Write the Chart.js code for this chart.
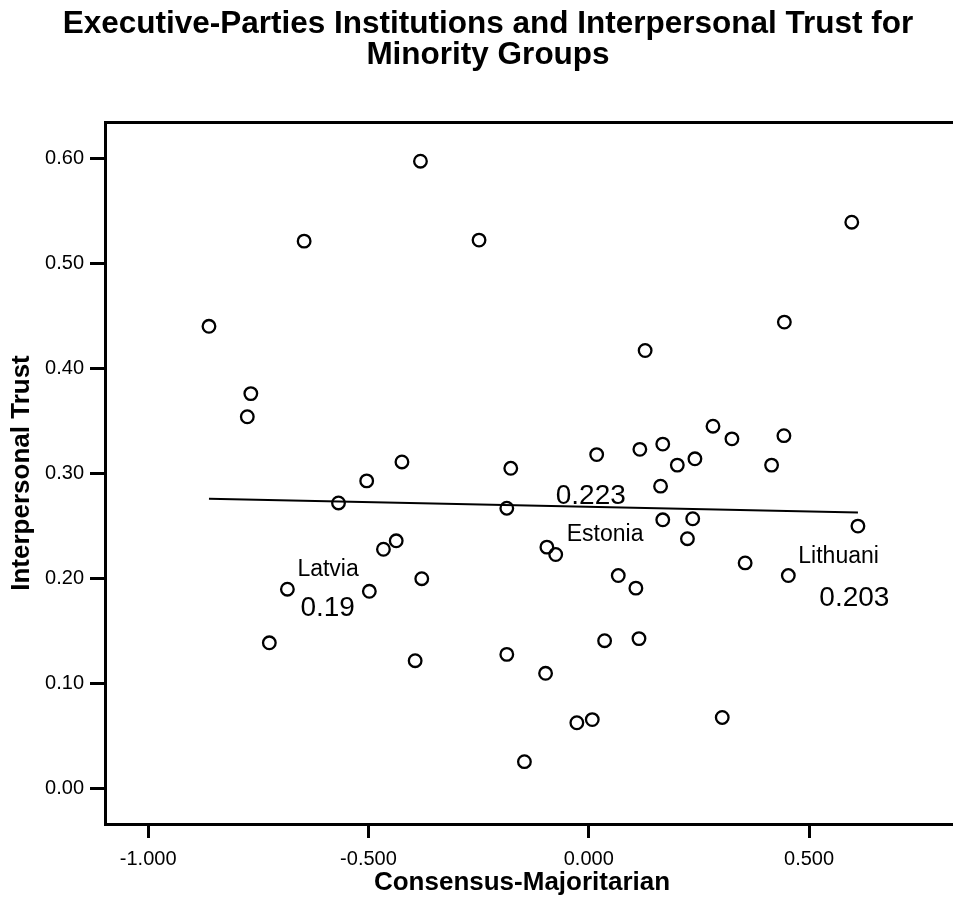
<!DOCTYPE html>
<html>
<head>
<meta charset="utf-8">
<title>Executive-Parties Institutions and Interpersonal Trust</title>
<script src="https://cdn.jsdelivr.net/npm/chart.js@4.4.0/dist/chart.umd.min.js"></script>
<style>
  html, body { margin: 0; padding: 0; background: #fff; }
</style>
</head>
<body>
<canvas id="chart" width="953" height="909"></canvas>
<script>
'use strict';

// consensus-majoritarian score (x) and interpersonal trust (y), one entry per country
const xVals = [-0.862, -0.775, -0.767, -0.725, -0.684, -0.646, -0.568, -0.504, -0.498, -0.466,
               -0.437, -0.424, -0.394, -0.382, -0.379, -0.249, -0.186, -0.186, -0.177, -0.146,
               -0.098, -0.095, -0.075, -0.027, 0.008, 0.018, 0.036, 0.067, 0.107, 0.114,
               0.116, 0.128, 0.163, 0.168, 0.168, 0.201, 0.224, 0.236, 0.241, 0.282,
               0.303, 0.325, 0.355, 0.415, 0.443, 0.444, 0.453, 0.597, 0.611];
const yVals = [0.440, 0.354, 0.376, 0.139, 0.190, 0.521, 0.272, 0.293, 0.188, 0.228,
               0.236, 0.311, 0.122, 0.597, 0.200, 0.522, 0.267, 0.128, 0.305, 0.026,
               0.110, 0.230, 0.223, 0.063, 0.066, 0.318, 0.141, 0.203, 0.191, 0.143,
               0.323, 0.417, 0.288, 0.328, 0.256, 0.308, 0.238, 0.257, 0.314, 0.345,
               0.068, 0.333, 0.215, 0.308, 0.336, 0.444, 0.203, 0.539, 0.250];

// fit line end points
const fitX = [-0.862, 0.611];
const fitY = [0.276, 0.263];

// labelled cases
const labelIdx = [4, 22, 46];
const labelNames = ['Latvia', 'Estonia', 'Lithuani'];
const labelValues = ['0.19', '0.223', '0.203'];

const xTicks = [-1.0, -0.5, 0.0, 0.5];
const yTicks = [0.0, 0.1, 0.2, 0.3, 0.4, 0.5, 0.6];
const xMin = -1.098, xMax = 0.795;
const yMin = -0.0333, yMax = 0.6343;

const FONT = '"Liberation Sans", Arial, Helvetica, sans-serif';
const PAD_LEFT = 37;

// case labels next to their points (name above-right, value nearby)
const caseLabels = {
    id: 'caseLabels',
    afterDatasetsDraw(chart) {
        const ctx = chart.ctx;
        const meta = chart.getDatasetMeta(1);
        const nameOff = [[10, -13], [11, -13], [10, -13]];
        const valOff = [[13, 27], [0, -50], [31, 30]];
        ctx.save();
        ctx.fillStyle = '#000';
        ctx.textAlign = 'left';
        ctx.textBaseline = 'alphabetic';
        labelIdx.forEach(function (i, k) {
            const p = meta.data[i];
            ctx.font = '23px ' + FONT;
            ctx.fillText(labelNames[k], p.x + nameOff[k][0], p.y + nameOff[k][1]);
            ctx.font = '28px ' + FONT;
            ctx.fillText(labelValues[k], p.x + valOff[k][0], p.y + valOff[k][1]);
        });
        ctx.restore();
    }
};

// top frame line and the bottom line running on to the page edge
const frameLines = {
    id: 'frameLines',
    afterDraw(chart) {
        const ctx = chart.ctx;
        const a = chart.chartArea;
        const align = function (px) { return Math.round(px - 1.5) + 1.5; };
        ctx.save();
        ctx.strokeStyle = '#000';
        ctx.lineWidth = 3;
        ctx.beginPath();
        ctx.moveTo(align(a.left) - 1.5, align(a.top));
        ctx.lineTo(chart.width, align(a.top));
        ctx.moveTo(a.right - 2, align(a.bottom));
        ctx.lineTo(chart.width, align(a.bottom));
        ctx.stroke();
        ctx.restore();
    }
};

const points = xVals.map(function (x, i) { return {x: x, y: yVals[i]}; });
const fitLine = fitX.map(function (x, i) { return {x: x, y: fitY[i]}; });

new Chart(document.getElementById('chart'), {
    type: 'scatter',
    data: {
        datasets: [
            {
                type: 'line',
                label: 'Fit',
                data: fitLine,
                showLine: true,
                borderColor: '#000',
                borderWidth: 2,
                pointRadius: 0,
                fill: false
            },
            {
                label: 'Countries',
                data: points,
                pointStyle: 'circle',
                pointRadius: 6.3,
                pointBorderWidth: 2.3,
                borderColor: '#000',
                backgroundColor: 'rgba(0,0,0,0)',
                pointBackgroundColor: 'rgba(0,0,0,0)'
            }
        ]
    },
    options: {
        responsive: false,
        animation: false,
        devicePixelRatio: 1,
        layout: { padding: { left: PAD_LEFT, right: 14, top: 0, bottom: 0 } },
        plugins: {
            legend: { display: false },
            tooltip: { enabled: false },
            title: {
                display: true,
                text: ['Executive-Parties Institutions and Interpersonal Trust for', 'Minority Groups'],
                color: '#000',
                font: { family: FONT, size: 31.5, weight: 'bold', lineHeight: 31 / 31.5 },
                padding: { top: 9, bottom: 51 }
            }
        },
        scales: {
            x: {
                type: 'linear',
                min: xMin,
                max: xMax,
                afterBuildTicks: function (s) { s.ticks = xTicks.map(function (v) { return {value: v}; }); },
                afterFit: function (s) { s.height = 85; },
                border: { display: true, color: '#000', width: 3 },
                grid: { display: true, drawOnChartArea: false, drawTicks: true, tickLength: 14, tickWidth: 3, tickColor: '#000' },
                ticks: {
                    color: '#000',
                    font: { family: FONT, size: 20 },
                    padding: 9,
                    maxRotation: 0,
                    autoSkip: false,
                    callback: function (v) { return Number(v).toFixed(3); }
                },
                title: {
                    display: true,
                    text: 'Consensus-Majoritarian',
                    color: '#000',
                    font: { family: FONT, size: 26, weight: 'bold' },
                    padding: { top: 0, bottom: 11 }
                }
            },
            y: {
                type: 'linear',
                min: yMin,
                max: yMax,
                afterBuildTicks: function (s) { s.ticks = yTicks.map(function (v) { return {value: v}; }); },
                afterFit: function (s) { s.width = 105 - PAD_LEFT; },
                border: { display: true, color: '#000', width: 3 },
                grid: { display: true, drawOnChartArea: false, drawTicks: true, tickLength: 15, tickWidth: 3, tickColor: '#000' },
                ticks: {
                    color: '#000',
                    font: { family: FONT, size: 20 },
                    padding: 6,
                    autoSkip: false,
                    callback: function (v) { return Number(v).toFixed(2); }
                },
                title: {
                    display: true,
                    text: 'Interpersonal Trust',
                    color: '#000',
                    font: { family: FONT, size: 26, weight: 'bold' },
                    padding: { top: -31, bottom: 0 }
                }
            }
        }
    },
    plugins: [caseLabels, frameLines]
});
</script>
</body>
</html>
